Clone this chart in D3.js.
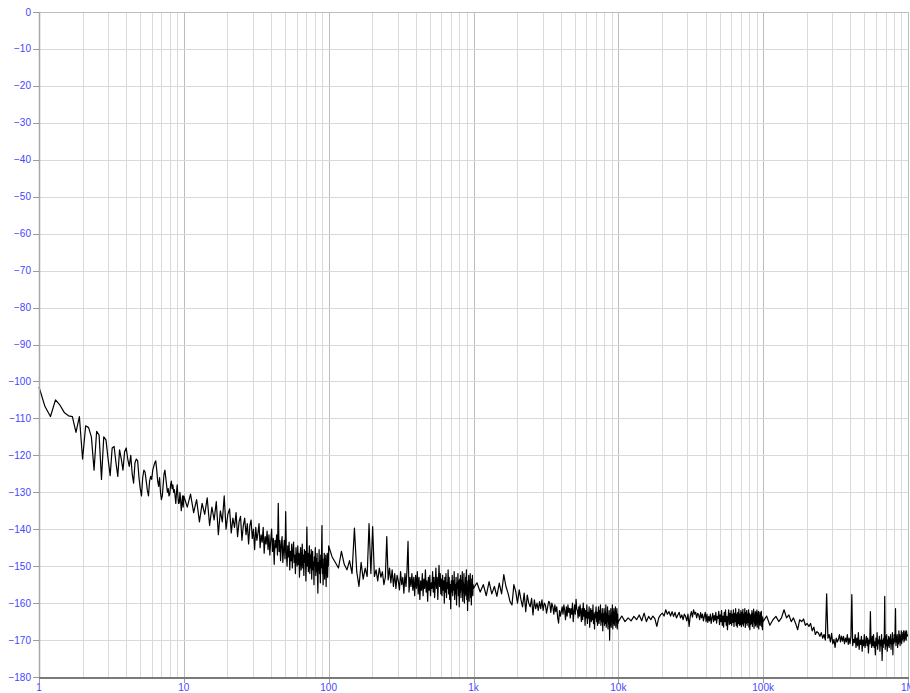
<!DOCTYPE html>
<html>
<head>
<meta charset="utf-8">
<style>
  body { margin: 0; background: #fff; }
  svg { display: block; }
  .tick-label { font-family: "Liberation Sans", Arial, sans-serif; font-size: 10px; fill: #4646ff; }
  .trace { fill: none; stroke: #000; stroke-width: 1.2; stroke-linejoin: round; }
</style>
</head>
<body>
<div id="chart"></div>
<script src="https://d3js.org/d3.v7.min.js"></script>
<script>
// spectrum readings (dB), one array per decade; bins are linear inside each decade
var decadeStarts = [1, 10, 100, 1000, 10000, 100000];

var dec1 = [
  -101.5, -106.8, -109.5, -105, -106.5, -108.5, -109.3, -109.5, -113.8, -109.5,
  -121, -112, -112.5, -115, -124, -113.5, -114.5, -126.5, -115, -115.8,
  -121, -125.5, -118, -117.6, -122, -125.7, -118.5, -121, -124, -119,
  -118, -121, -123, -120, -125, -127.5, -122, -121, -121.5, -126,
  -129, -131, -126, -124, -124.5, -127, -129.5, -131, -127, -125.7,
  -126.5, -124, -123, -122, -121.5, -124, -127, -128.4, -126, -130,
  -132, -131, -128, -125, -124, -126, -128, -130, -129, -131,
  -130.5, -128, -127, -129, -128, -130, -129.3, -131, -133, -130,
  -128, -131, -133, -132.9, -130, -132, -135, -133, -131, -134
];

var dec2 = [
  -131, -134, -130.5, -135.5, -132, -138, -133, -136, -131.5, -139,
  -134, -137.5, -132.5, -141.5, -135, -138, -131, -140, -136, -134.5,
  -141, -137, -139.5, -135.5, -142, -138, -136.5, -143, -139, -137,
  -141.5, -138.5, -144, -139, -137.5, -142.5, -140, -145.5, -139.5, -143,
  -141, -138.5, -145, -141.5, -143.5, -139.5, -146.5, -142, -144, -140.5,
  -145.5, -141.5, -147, -143, -140, -146, -142.5, -149.5, -143, -145,
  -141.5, -147, -133, -146, -143, -148.5, -144, -142, -149, -145.5,
  -143, -148, -135.2, -146.5, -150, -144.5, -147.5, -143.5, -151, -146,
  -148.5, -144, -150.5, -146, -143.5, -149, -147, -152, -145, -148,
  -150, -144.5, -149.5, -146.5, -153, -147.5, -145, -151, -148.5, -144,
  -150.5, -147, -152.5, -145.5, -149, -146, -154, -148, -139.4, -150,
  -146.5, -151.5, -148, -144.5, -152, -147, -150.5, -145.5, -153.5, -148.5,
  -146, -151, -149, -155, -147.5, -150, -145, -152.5, -148, -151.5,
  -146.5, -153, -157.3, -149, -151, -145.5, -152, -148.5, -154.5, -147,
  -150.5, -146, -139, -152, -148, -155, -149.5, -151.5, -146.5, -153.5,
  -148, -152, -147, -155.5, -149, -151, -146.5, -153, -148.5, -150
];

var dec3 = [
  -144.5, -147.5, -149, -150.5, -146, -149.5, -151, -148.5, -152, -139.7,
  -151.5, -155.5, -149, -153.5, -150.5, -152.8, -138.5, -152, -139.3, -152.8,
  -151, -154, -150.5, -153, -151.5, -155, -153, -142, -153.7, -150.5,
  -154.5, -151, -155.5, -152, -156, -152.5, -154, -156.4, -151.5, -155,
  -153, -157.3, -152, -155.5, -151, -143.3, -157, -153, -155.5, -152,
  -156.5, -153, -158, -152.5, -156, -151.5, -157.5, -153, -159, -154,
  -156.5, -152, -158, -153.5, -156, -151, -157, -154, -159.5, -153,
  -156.5, -152.5, -158, -154.5, -156, -151.5, -157, -153, -158.5, -155,
  -150.5, -156, -153, -159, -154, -149.8, -155.5, -152, -157.5, -153.5,
  -158, -152.5, -156.5, -154, -160, -153, -157, -152, -158.5, -154.5,
  -156, -151, -157.5, -153, -159, -155, -161.5, -154, -157, -152.5,
  -158, -154, -156.5, -151.5, -159, -155, -157.5, -153, -160.5, -154.5,
  -156, -152, -158, -154, -161, -153.5, -157, -152.5, -158.5, -154,
  -156.5, -151.5, -159.5, -154.5, -157, -152, -160, -155, -158, -153,
  -157.5, -151, -159, -154, -162, -155.5, -157, -152.5, -159.5, -154,
  -156.5, -152, -158.5, -155, -160.5, -153.5, -157.5, -152.5, -158, -155
];

var dec4 = [
  -156, -154.5, -157, -155, -158, -154.2, -157.5, -155.5, -158.2, -154.6,
  -157.5, -152.3, -155.5, -157.3, -159.6, -160.5, -155, -156.8, -160, -156.4,
  -159, -161, -157.3, -162.3, -157.8, -160, -161, -158.7, -163.2, -159.1,
  -161.5, -160, -162, -159.6, -161.5, -159.1, -162, -160, -160.5, -162.7,
  -161, -159.5, -160, -162.5, -160, -161, -163, -160.5, -162.3, -161,
  -164, -165.4, -162, -163.5, -162.3, -161, -163, -160.5, -162, -164.5,
  -161, -163.5, -160.5, -162.5, -161.4, -164, -161.5, -163, -160, -165,
  -162.5, -160.5, -163, -159, -161.5, -162, -164, -161, -163.5, -160.5,
  -162.5, -165, -161.5, -164.5, -160, -163.5, -161.5, -166, -162, -164,
  -160.5, -165.5, -162.5, -164, -161, -166.5, -163, -161.5, -165, -162,
  -164.5, -160.5, -165.5, -163, -167, -162.5, -164, -161, -165, -162.5,
  -166, -163, -161, -165.5, -162, -164.5, -160.5, -166, -163, -165,
  -161.5, -167.5, -163, -165, -161.5, -166, -162.5, -165.5, -160.5, -166.5,
  -163, -165, -161, -167, -163.5, -165.5, -162, -170, -163.5, -166,
  -161.5, -166.5, -163, -165, -160.5, -167, -162.5, -165.5, -161.5, -166,
  -163, -164.5, -161, -166.5, -162.5, -165, -161.5, -167, -163, -165.5
];

var dec5 = [
  -165, -163.5, -165, -164, -164.8, -163.6, -164.5, -163.2, -164.8, -162.7,
  -165, -163.6, -164.5, -163.5, -164.2, -166.3, -164, -163.2, -162.7, -163.5,
  -161.8, -163, -162.3, -163.5, -162.3, -163.6, -162.5, -164, -163.2, -162.5,
  -164, -163.2, -164.5, -163, -163.6, -164.8, -163, -166.3, -163.5, -162.3,
  -163.8, -161.8, -163, -162.5, -164, -162.8, -163.2, -164.5, -162.6, -164,
  -163, -164.8, -163.6, -162.5, -165, -163, -165.2, -163.6, -164.8, -163,
  -165.5, -164, -162.8, -165, -163.4, -164.6, -162.5, -165.4, -163.6, -164.2,
  -162.2, -165.8, -163.2, -165, -162, -166, -163.5, -166.5, -162.5, -165,
  -161.8, -166, -163.6, -167.2, -163.8, -161.8, -165.8, -162.8, -165.5, -162,
  -166, -163, -165.2, -161.8, -166.3, -162.8, -165, -161.5, -166, -163,
  -166.5, -162.5, -165.5, -161.6, -166, -163, -165.8, -162, -166.4, -162.5,
  -165.6, -161.7, -166.2, -163, -165.3, -161.5, -166.6, -162.6, -165.4, -162,
  -166, -163, -165.2, -161.8, -166.5, -162.8, -167.2, -163.3, -165.8, -163,
  -165.5, -162, -166.3, -162.8, -165, -161.6, -166.8, -163.2, -165.4, -162.3,
  -166.2, -162.6, -165.7, -161.9, -166.5, -163, -165.2, -162.2, -167, -163.4,
  -165.8, -162.4, -166, -163, -164.8, -162.2, -166.4, -163.6, -167.2, -164
];

var dec6 = [
  -165, -163.5, -166, -164.5, -163.6, -165, -164, -161.8, -164, -163.2,
  -165, -164, -165.5, -167.2, -164.5, -165, -164.3, -166, -165.5, -166.3,
  -165.5, -167.5, -166.5, -168.5, -167.7, -168.1, -169, -168, -169.5, -168.5,
  -170, -157.5, -169.5, -168.5, -170.5, -168.2, -171, -169.8, -172, -169.5,
  -170.5, -169.8, -168.5, -170.5, -168.9, -170.3, -169, -171, -169.5, -170.5,
  -168.5, -171.2, -169.5, -171, -169, -157.7, -171.5, -169.8, -170.7, -168.5,
  -172, -169.5, -171.5, -168, -172.5, -170, -171.2, -169, -173, -170,
  -171.5, -168.5, -172, -170.5, -169, -171.5, -169.5, -173.5, -170, -171,
  -162.3, -170.5, -172, -169, -171.5, -168.5, -172, -170.5, -174, -169.5,
  -171.5, -168, -172.5, -170, -171, -169, -173, -170, -171.5, -168.5,
  -175.5, -170, -172, -169.5, -171, -158.2, -172.5, -169, -171.5, -168.5,
  -173, -170, -171.5, -169, -172, -169.5, -171, -168.5, -172.5, -170,
  -171, -168, -174, -169.8, -171, -168.5, -170.5, -168, -161.5, -171.5,
  -169, -170.5, -168.5, -172, -169.5, -171, -167.5, -170.5, -168.5, -171.5,
  -169, -170.5, -167.5, -171, -168.5, -170, -168, -169.5, -167.5, -170.5,
  -168.5, -170, -167.5, -169.5, -168, -170, -167.5, -169, -168.5, -169
];

var yTicks = [0, -10, -20, -30, -40, -50, -60, -70, -80, -90, -100, -110, -120, -130, -140, -150, -160, -170, -180];
var xTicks = [1, 10, 100, 1000, 10000, 100000, 1000000];
var xTickLabels = ["1", "10", "100", "1k", "10k", "100k", "1M"];

var width = 910,
    height = 693;

var plotLeft = 39, plotRight = 908, plotTop = 12, plotBottom = 677;

var x = d3.scaleLog()
    .domain([1, 1e6])
    .range([plotLeft, plotRight]);

var y = d3.scaleLinear()
    .domain([-180, 0])
    .range([plotBottom, plotTop]);

var svg = d3.select("#chart").append("svg")
    .attr("width", width)
    .attr("height", height);

// grid - minor verticals at 2..9 of each decade
var minor = [];
decadeStarts.forEach(function(s) {
  for (var m = 2; m <= 9; m++) minor.push(s * m);
});

svg.append("g").selectAll("line")
    .data(minor)
  .enter().append("line")
    .attr("x1", function(d) { return Math.round(x(d)) + 0.5; })
    .attr("x2", function(d) { return Math.round(x(d)) + 0.5; })
    .attr("y1", plotTop)
    .attr("y2", plotBottom)
    .attr("stroke", "#d9d9d9");

svg.append("g").selectAll("line")
    .data(xTicks.slice(1, -1))
  .enter().append("line")
    .attr("x1", function(d) { return Math.round(x(d)) + 0.5; })
    .attr("x2", function(d) { return Math.round(x(d)) + 0.5; })
    .attr("y1", plotTop)
    .attr("y2", plotBottom)
    .attr("stroke", "#bcbcbc");

svg.append("g").selectAll("line")
    .data(yTicks.slice(1, -1))
  .enter().append("line")
    .attr("x1", plotLeft)
    .attr("x2", plotRight)
    .attr("y1", function(d) { return Math.round(y(d)) + 0.5; })
    .attr("y2", function(d) { return Math.round(y(d)) + 0.5; })
    .attr("stroke", "#d9d9d9");

// frame
svg.append("line").attr("x1", plotLeft).attr("x2", plotRight).attr("y1", plotTop + 0.5).attr("y2", plotTop + 0.5).attr("stroke", "#bdbdbd");
svg.append("line").attr("x1", plotRight + 0.5).attr("x2", plotRight + 0.5).attr("y1", plotTop).attr("y2", plotBottom).attr("stroke", "#bdbdbd");

// trace
var points = [];
[dec1, dec2, dec3, dec4, dec5, dec6].forEach(function(vals, k) {
  var s = decadeStarts[k];
  var bin = 9 * s / vals.length;
  vals.forEach(function(v, i) { points.push([s + i * bin, v]); });
});

var line = d3.line()
    .x(function(d) { return x(d[0]); })
    .y(function(d) { return y(d[1]); });

svg.append("path")
    .datum(points)
    .attr("class", "trace")
    .attr("d", line);

// axes
svg.append("line").attr("x1", plotLeft + 0.5).attr("x2", plotLeft + 0.5).attr("y1", plotTop).attr("y2", plotBottom).attr("stroke", "#a8a8a8").attr("stroke-width", 1.5);
svg.append("line").attr("x1", plotLeft).attr("x2", plotRight + 1).attr("y1", plotBottom + 1).attr("y2", plotBottom + 1).attr("stroke", "#7a7a7a").attr("stroke-width", 2);

var fmtY = function(d) { return d < 0 ? "\u2212" + Math.abs(d) : String(d); };

var yAxis = svg.append("g");
yAxis.selectAll("line")
    .data(yTicks)
  .enter().append("line")
    .attr("x1", 33)
    .attr("x2", plotLeft)
    .attr("y1", function(d) { return Math.round(y(d)) + 0.5; })
    .attr("y2", function(d) { return Math.round(y(d)) + 0.5; })
    .attr("stroke", "#9a9a9a");
yAxis.selectAll("text")
    .data(yTicks)
  .enter().append("text")
    .attr("class", "tick-label")
    .attr("x", 31)
    .attr("y", function(d) { return y(d) + 3.5; })
    .attr("text-anchor", "end")
    .text(fmtY);

var xAxis = svg.append("g");
xAxis.selectAll("line")
    .data(xTicks)
  .enter().append("line")
    .attr("x1", function(d) { return Math.round(x(d)) + 0.5; })
    .attr("x2", function(d) { return Math.round(x(d)) + 0.5; })
    .attr("y1", plotBottom + 2)
    .attr("y2", plotBottom + 6)
    .attr("stroke", "#9a9a9a");
xAxis.selectAll("text")
    .data(xTicks)
  .enter().append("text")
    .attr("class", "tick-label")
    .attr("x", function(d) { return x(d); })
    .attr("y", 691)
    .attr("text-anchor", "middle")
    .text(function(d, i) { return xTickLabels[i]; });
</script>
</body>
</html>
